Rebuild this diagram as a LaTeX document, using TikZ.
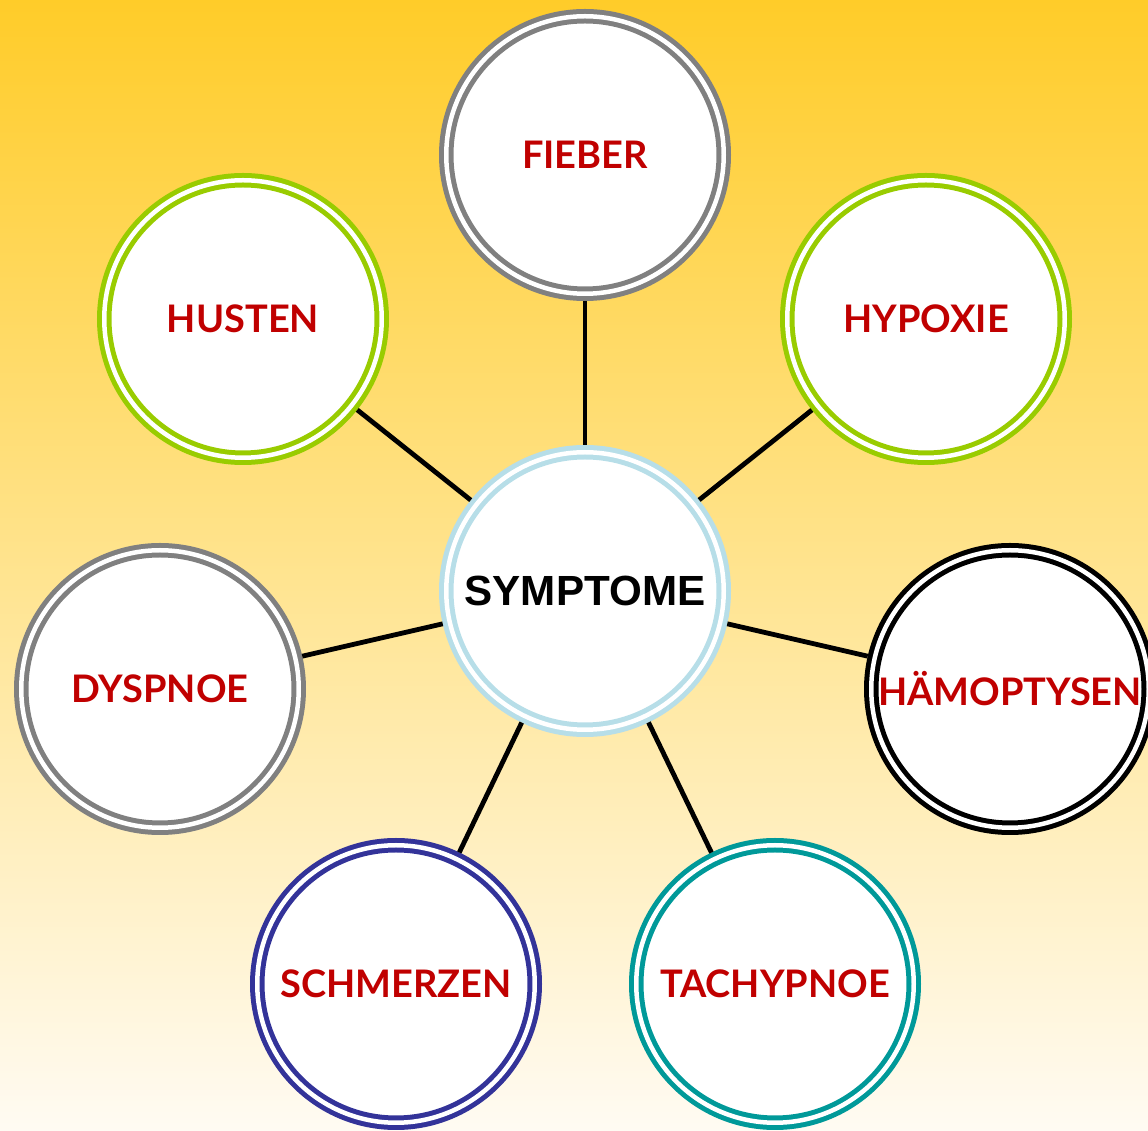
\documentclass[tikz,border=0pt]{standalone}
\usepackage{fontspec}
\usepackage{tikz}
\usetikzlibrary{positioning}
\newfontfamily\labelfont{Lato}
\newfontfamily\hubfont{Liberation Sans}
\definecolor{bgtop}{RGB}{255,204,41}
\definecolor{bgmid}{RGB}{253,226,163}
\definecolor{bgbottom}{RGB}{255,251,243}
\definecolor{ringgray}{RGB}{128,128,128}
\definecolor{ringgreen}{RGB}{153,204,0}
\definecolor{ringblue}{RGB}{51,51,153}
\definecolor{ringteal}{RGB}{0,153,153}
\definecolor{ringlight}{RGB}{183,222,232}
\definecolor{labelred}{RGB}{192,0,0}

\begin{document}
\begin{tikzpicture}[
    bubble/.style={circle, fill=white, draw=#1, line width=0.05cm,
        double=white, double distance=0.045cm,
        minimum size=2.775cm, inner sep=0pt, outer sep=0.0725cm,
        font=\labelfont\bfseries\fontsize{10.8}{12}\selectfont, text=labelred},
    hub/.style={bubble=ringlight, font=\hubfont\bfseries\fontsize{12}{14}\selectfont, text=black},
    spoke/.style={line width=0.048cm, black}]
    % background
    \shade[top color=bgtop, middle color=bgmid, bottom color=bgbottom]
        (0,0) rectangle (11.48,11.31);
    \useasboundingbox (0,0) rectangle (11.48,11.31);
    \clip (0,0) rectangle (11.48,11.31);

    \node[hub] (sym) at (5.85,5.40) {SYMPTOME};
    \node[bubble=ringgray] (fieber) at (5.85,9.76) {FIEBER};
    \node[bubble=ringgreen] (husten) at (2.43,8.12) {HUSTEN};
    \node[bubble=ringgreen] (hypoxie) at (9.26,8.12) {HYPOXIE};
    \node[bubble=ringgray] (dyspnoe) at (1.60,4.42) {DYSPNOE};
    \node[bubble=black] (haemo) at (10.10,4.42) {HÄMOPTYSEN};
    \node[bubble=ringblue] (schmerz) at (3.96,1.47) {SCHMERZEN};
    \node[bubble=ringteal] (tachy) at (7.75,1.47) {TACHYPNOE};

    \path[spoke]
        (sym) edge (fieber)
        (sym) edge (husten)
        (sym) edge (hypoxie)
        (sym) edge (dyspnoe)
        (sym) edge (haemo)
        (sym) edge (schmerz)
        (sym) edge (tachy);
\end{tikzpicture}
\end{document}
